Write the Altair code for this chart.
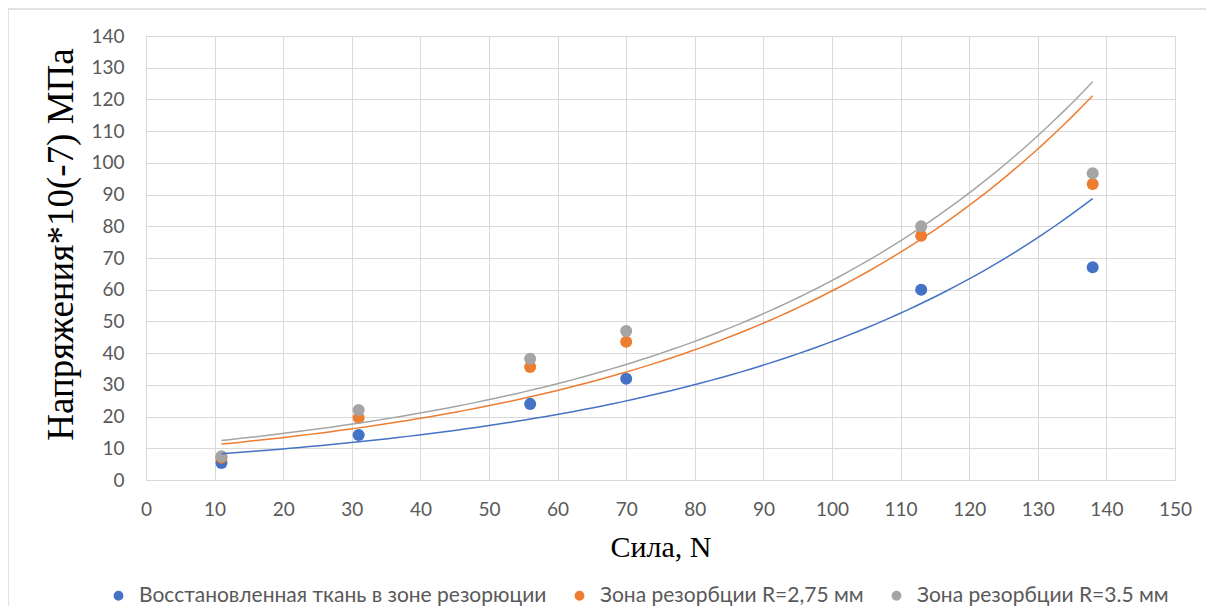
import altair as alt
import pandas as pd
import numpy as np

# ---- data ----
force = [11, 31, 56, 70, 113, 138]
restored = [5.4, 14.2, 24.0, 31.9, 60.0, 67.1]
zone_275 = [7.0, 19.6, 35.6, 43.6, 77.0, 93.3]
zone_35 = [7.5, 22.1, 38.2, 47.0, 80.0, 96.7]

names = [
    "Восстановленная ткань в зоне резорюции",
    "Зона резорбции R=2,75 мм",
    "Зона резорбции R=3.5 мм",
]
colors = ["#4472C4", "#ED7D31", "#A5A5A5"]
x_ticks = list(range(0, 151, 10))
y_ticks = list(range(0, 141, 10))

series = [restored, zone_275, zone_35]

rows = []
for n, vals in zip(names, series):
    for f, v in zip(force, vals):
        rows.append({"force": f, "stress": v, "series": n})
points_df = pd.DataFrame(rows)

# exponential trendlines (least squares on log y, like a spreadsheet trendline)
trend_rows = []
xs = np.linspace(min(force), max(force), 90)
for n, vals in zip(names, series):
    b, lna = np.polyfit(np.array(force, float), np.log(np.array(vals, float)), 1)
    for xv in xs:
        trend_rows.append({"force": float(xv), "stress": float(np.exp(lna + b * xv)), "series": n})
trend_df = pd.DataFrame(trend_rows)

GRID = "#D9D9D9"
LABEL = "#595959"
SANS = "Lato"
SERIF = "Liberation Serif"

x_axis = alt.Axis(
    values=x_ticks, grid=True, gridColor=GRID, domainColor=GRID, ticks=False,
    labelFont=SANS, labelFontSize=19, labelColor=LABEL, labelPadding=20,
    labelFlush=False, labelOverlap=False,
    title="Сила, N", titleFont=SERIF, titleFontSize=30, titleFontWeight="normal",
    titleColor="#000000", titlePadding=13,
)
y_axis = alt.Axis(
    values=y_ticks, tickCount=15, grid=True, gridColor=GRID, domainColor=GRID, ticks=False,
    labelFont=SANS, labelFontSize=19, labelColor=LABEL, labelPadding=22,
    labelOverlap=False,
    title="Напряжения*10(-7) МПа", titleFont=SERIF, titleFontSize=37,
    titleFontWeight="normal", titleColor="#000000",
    titleAngle=270, titleX=-85, titleY=208, titleAlign="center", titleBaseline="middle",
)
x_scale = alt.Scale(domain=[0, 150], nice=False)
y_scale = alt.Scale(domain=[0, 140], nice=False)
color_scale = alt.Scale(domain=names, range=colors)

border = alt.Chart(pd.DataFrame({"a": [0]})).mark_rect(
    fillOpacity=0, stroke=GRID, strokeWidth=1.5
).encode(
    x=alt.value(-138), x2=alt.value(1200), y=alt.value(-27), y2=alt.value(700)
)

pts = alt.Chart(points_df).mark_circle(size=145, opacity=1).encode(
    x=alt.X("force:Q", scale=x_scale, axis=x_axis),
    y=alt.Y("stress:Q", scale=y_scale, axis=y_axis),
    color=alt.Color(
        "series:N", scale=color_scale, sort=names,
        legend=alt.Legend(
            title=None, orient="none", legendX=-38, legendY=549, direction="horizontal",
            labelFont=SANS, labelFontSize=21, labelColor=LABEL, labelLimit=700,
            symbolType="circle", symbolSize=70, columnPadding=22, labelOffset=10,
            padding=0,
        ),
    ),
)

lines = alt.Chart(trend_df).mark_line(strokeWidth=1.5).encode(
    x=alt.X("force:Q", scale=x_scale, axis=x_axis),
    y=alt.Y("stress:Q", scale=y_scale, axis=y_axis),
    color=alt.Color("series:N", scale=color_scale, legend=None),
    detail="series:N",
)

chart = alt.layer(border, pts, lines).properties(
    width=1029,
    height=444,
    autosize=alt.AutoSizeParams(type="none"),
    padding={"left": 138, "top": 28, "right": 31, "bottom": 126},
).configure_view(stroke=GRID)

chart.save("out.html", embed_options={"renderer": "svg", "actions": False})
